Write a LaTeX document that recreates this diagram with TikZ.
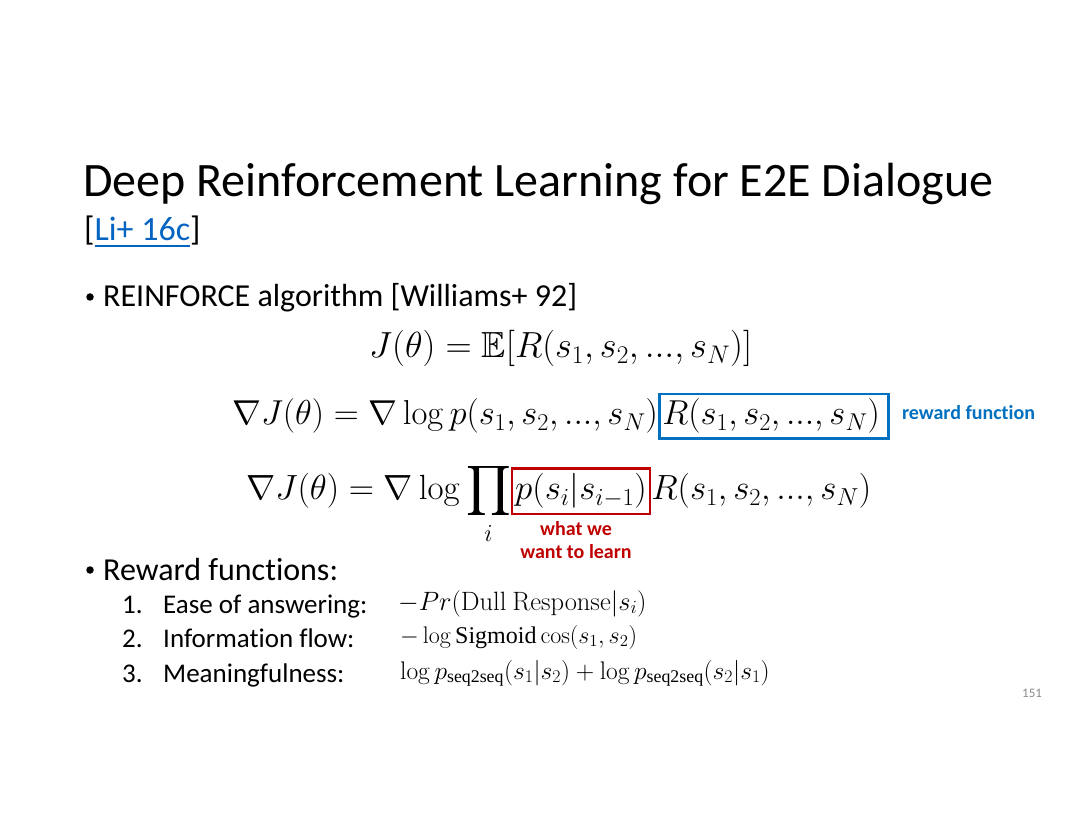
\RequirePackage{fix-cm}
\documentclass[tikz,border=0pt]{standalone}
\usepackage{amsmath}
\usepackage{amssymb}
\usepackage[no-math]{fontspec}
\setmainfont{Carlito}[Ligatures=NoCommon]
\newfontfamily\picfont{Liberation Serif}
\usetikzlibrary{positioning}
\definecolor{linkblue}{RGB}{5,99,193}
\definecolor{boxblue}{RGB}{0,112,192}
\definecolor{darkred}{RGB}{192,0,0}
\definecolor{pagegray}{RGB}{137,137,137}
\newcommand{\titlesize}{\fontsize{48}{56}\selectfont}
\newcommand{\bodysize}{\fontsize{32}{38}\selectfont}
\newcommand{\itemsize}{\fontsize{27}{32}\selectfont}
\newcommand{\eqsize}{\fontsize{34.6}{42}\selectfont}
\newcommand{\pictext}[1]{\text{\picfont #1}}

\begin{document}
\begin{tikzpicture}[x=1pt, y=-1pt, node distance=6pt,
txt/.style={anchor=base west, inner sep=0pt},
eq/.style={anchor=base west, inner sep=0pt, font=\eqsize},
dot/.style={circle, fill, inner sep=0pt, minimum size=7.5pt},
box/.style={draw=#1, line width=2.5pt, inner xsep=3pt, inner ysep=5pt, anchor=base west, font=\eqsize},
note/.style={font=\fontsize{20}{23}\selectfont\bfseries, text=#1, inner sep=0pt, align=center}]
\useasboundingbox[fill=white] (0,0) rectangle (1080,834);

% title
\node [txt, font=\titlesize] (title) at (83,197) {Deep Reinforcement Learning for E2E Dialogue};
\node [txt, font=\fontsize{34}{40}\selectfont] (cite) at (84,241) {[\textcolor{linkblue}{\underline{Li+ 16c}}]};

% first bullet
\node [dot] (dot1) at (90,297) {};
\node [txt, font=\bodysize] (item1) at (103,307) {REINFORCE algorithm [Williams+ 92]};

%% equations
\node [eq, font=\fontsize{36.3}{42}\selectfont] (eqa) at (369,358) {$J(\theta) = \mathbb{E}[R(s_1, s_2, ..., s_N)]$};

\node [eq] (eqb) at (232,425) {$\nabla J(\theta) = \nabla \log p(s_1, s_2, ..., s_N)$};
\node [box=boxblue] (reward) at (eqb.base east) {$R(s_1, s_2, ..., s_N)\,$};
\node [note=boxblue, anchor=base west] (rewardtxt) at ([xshift=12pt]reward.east |- 0,420) {reward function};

\node [eq, font=\fontsize{35}{42}\selectfont] (eqc) at (246,500) {$\displaystyle \nabla J(\theta) = \nabla \log \prod_i$};
\node [box=darkred, font=\fontsize{35}{42}\selectfont] (policy) at (eqc.base east) {$p(s_i|s_{i-1})$};
\node [eq, font=\fontsize{35}{42}\selectfont] (eqd) at (policy.base east) {$R(s_1, s_2, ..., s_N)$};
\node [note=darkred, below = of policy, xshift=-5pt] (policytxt) {what we\\want to learn};

% second bullet
\node [dot] (dot2) at (90,570) {};
\node [txt, font=\bodysize] (item2) at (103,580) {Reward functions:};

\node [txt, font=\itemsize] (n1) at (122,613) {1.};
\node [txt, font=\itemsize] (r1) at (163,613) {Ease of answering:};
\node [txt, font=\itemsize] (n2) at (122,647) {2.};
\node [txt, font=\itemsize] (r2) at (163,647) {Information flow:};
\node [txt, font=\itemsize] (n3) at (122,682) {3.};
\node [txt, font=\itemsize] (r3) at (163,682) {Meaningfulness:};

\node [txt, font=\fontsize{26.5}{31}\selectfont] (f1) at (398,610) {$-Pr(\mathrm{Dull\ Response}|s_i)$};
\node [txt, font=\fontsize{24}{29}\selectfont] (f2) at (400,643) {$-\log \pictext{Sigmoid} \cos(s_1, s_2)$};
\node [txt, font=\fontsize{25.5}{30}\selectfont] (f3) at (400,679) {$\log p_{\pictext{seq2seq}}(s_1|s_2) + \log p_{\pictext{seq2seq}}(s_2|s_1)$};

% page number
\node [txt, font=\fontsize{13}{15}\selectfont, text=pagegray] (page) at (1022,697) {151};
\end{tikzpicture}
\end{document}
